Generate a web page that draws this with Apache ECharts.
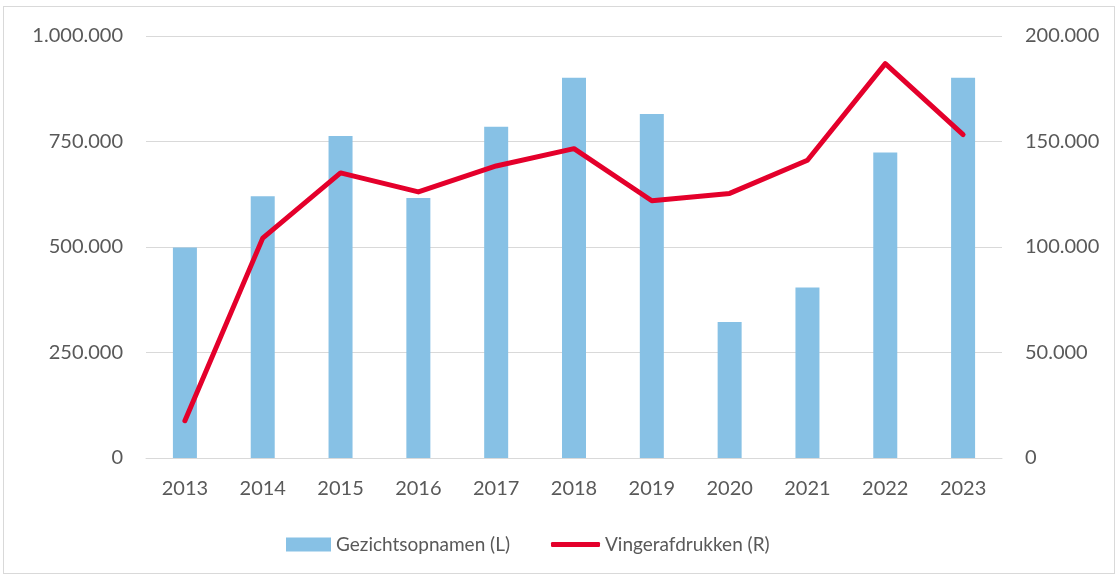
<!DOCTYPE html>
<html lang="nl">

<head>
    <meta charset="UTF-8">
    <title>Gezichtsopnamen en vingerafdrukken</title>
    <style>
        html, body {
            margin: 0;
            padding: 0;
            background: #fff;
        }
        .mychart {
            position: absolute;
            left: 3px;
            top: 6px;
            width: 1112px;
            height: 568px;
            border: 1px solid #d9d9d9;
            box-sizing: border-box;
        }
    </style>
</head>

<body>
    <div class="mychart"></div>
</body>
<script src="https://cdn.jsdelivr.net/npm/echarts@6/dist/echarts.min.js"></script>
<script>
    // jaren op de x-as
    const years = ['2013', '2014', '2015', '2016', '2017', '2018', '2019', '2020', '2021', '2022', '2023']
    // gezichtsopnamen (linker as)
    const faces = [499000, 620000, 763000, 616000, 785000, 901000, 815000, 322000, 404000, 724000, 901000]
    // vingerafdrukken (rechter as)
    const fingerprints = [17700, 104200, 135100, 126100, 138400, 146600, 121900, 125400, 141100, 186900, 153300]
    // as-indeling
    const leftMax = 1000000
    const leftStep = 250000
    const rightMax = 200000
    const rightStep = 50000

    // duizendtallen met punt
    const fmt = v => String(v).replace(/\B(?=(\d{3})+(?!\d))/g, '.')

    const font = 'Lato, "Open Sans", sans-serif'
    const textColor = '#595959'
    const barColor = '#87c1e5'
    const lineColor = '#e4002b'

    const myChart = echarts.init(document.querySelector('.mychart'))

    const config = {
        textStyle: { fontFamily: font },
        animation: false,
        grid: {
            left: 142,
            right: 112,
            top: 29,
            bottom: 115
        },
        // twee legenda's, zodat het lijn-icoon dun kan blijven
        legend: [{
            left: 277,
            top: 523,
            itemWidth: 45,
            itemHeight: 14,
            icon: 'rect',
            textStyle: { fontSize: 19, color: textColor, fontFamily: font },
            data: ['Gezichtsopnamen (L)']
        }, {
            left: 542,
            top: 523,
            itemWidth: 49,
            itemHeight: 5,
            icon: 'roundRect',
            itemStyle: { color: lineColor },
            textStyle: { fontSize: 19, color: textColor, fontFamily: font },
            data: ['Vingerafdrukken (R)']
        }],
        xAxis: {
            type: 'category',
            data: years,
            axisLine: { lineStyle: { color: '#d9d9d9', width: 1 } },
            axisTick: { show: false },
            axisLabel: { color: textColor, fontSize: 20, margin: 21 }
        },
        yAxis: [{
            type: 'value',
            min: 0,
            max: leftMax,
            interval: leftStep,
            axisLine: { show: false },
            axisTick: { show: false },
            splitLine: { lineStyle: { color: '#d9d9d9', width: 1 } },
            axisLabel: { color: textColor, fontSize: 20, margin: 23, formatter: fmt }
        }, {
            type: 'value',
            min: 0,
            max: rightMax,
            interval: rightStep,
            axisLine: { show: false },
            axisTick: { show: false },
            splitLine: { show: false },
            axisLabel: { color: textColor, fontSize: 20, margin: 23, formatter: fmt }
        }],
        series: [{
            type: 'bar',
            name: 'Gezichtsopnamen (L)',
            yAxisIndex: 0,
            barWidth: 24,
            itemStyle: { color: barColor },
            data: faces
        }, {
            type: 'line',
            name: 'Vingerafdrukken (R)',
            yAxisIndex: 1,
            symbol: 'none',
            lineStyle: { color: lineColor, width: 5, cap: 'round', join: 'round' },
            itemStyle: { color: lineColor },
            data: fingerprints
        }]
    }

    myChart.setOption(config)
</script>

</html>
